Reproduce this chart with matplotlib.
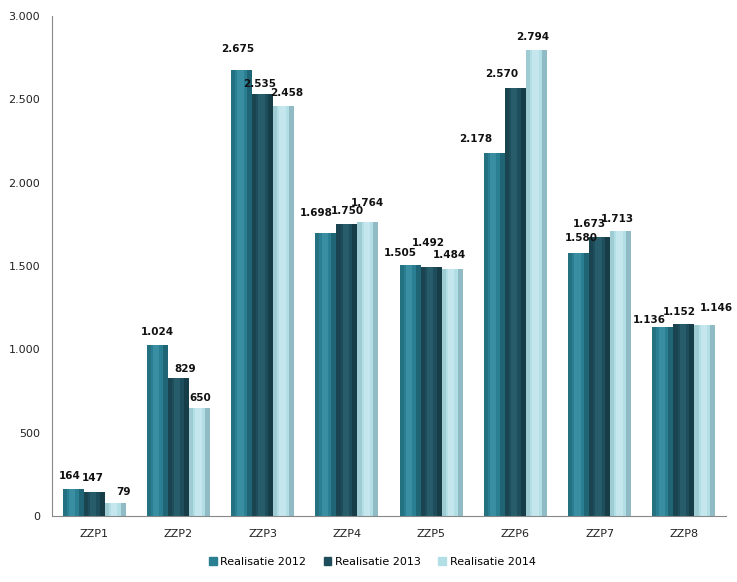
import matplotlib
matplotlib.use("Agg")
import matplotlib.pyplot as plt
import numpy as np
from matplotlib.ticker import FuncFormatter

categories = ["ZZP1", "ZZP2", "ZZP3", "ZZP4", "ZZP5", "ZZP6", "ZZP7", "ZZP8"]
series_names = ["Realisatie 2012", "Realisatie 2013", "Realisatie 2014"]
r2012 = [164, 1024, 2675, 1698, 1505, 2178, 1580, 1136]
r2013 = [147, 829, 2535, 1750, 1492, 2570, 1673, 1152]
r2014 = [79, 650, 2458, 1764, 1484, 2794, 1713, 1146]
yticks = [0, 500, 1000, 1500, 2000, 2500, 3000]

# label nudges (dx px, dy px above bar top) per series, per category
label_dx = [
    [-3, 0, -4, -10, -10, -19, 3, -13],
    [-1, 7, -3, 1, -3, -14, -10, -5],
    [8, 1, 3, 0, -3, -4, -3, 11],
]
label_dy = [
    [13, 13, 21, 20, 12, 14, 15, 7],
    [14, 9, 10, 13, 24, 14, 13, 12],
    [11, 10, 13, 19, 14, 13, 12, 17],
]

colors = ["#2a7f92", "#1e4e5b", "#b2dee6"]
light = ["#57aebf", "#3a7988", "#e8f7fa"]
dark = ["#1a5866", "#12343e", "#7ea9b2"]

fig = plt.figure(figsize=(7.37, 5.82), dpi=100)
ax = fig.add_axes([0.0706, 0.1134, 0.9144, 0.8591])

def fmt(v):
    return f"{v:,}".replace(",", ".")

x = np.arange(len(categories))
w = 0.25
series = [r2012, r2013, r2014]
pt = 72 / 100
for i, vals in enumerate(series):
    xs = x + (i - 1) * w
    ax.bar(xs, vals, width=w, color=colors[i], edgecolor="none", label=series_names[i], zorder=2)
    ax.bar(xs - w * 0.40, vals, width=w * 0.2, color=dark[i], edgecolor="none", alpha=0.35, zorder=3)
    ax.bar(xs + w * 0.38, vals, width=w * 0.24, color=dark[i], edgecolor="none", alpha=0.65, zorder=3)
    ax.bar(xs - w * 0.05, vals, width=w * 0.3, color=light[i], edgecolor="none", alpha=0.35, zorder=3)
    for j, (xi, v) in enumerate(zip(xs, vals)):
        ax.annotate(fmt(v), (xi, v), xytext=(label_dx[i][j] * pt, label_dy[i][j] * pt),
                    textcoords="offset points", ha="center", va="center", fontsize=7.5,
                    fontweight="bold", color="#111111", zorder=5)

ax.set_xlim(-0.5, len(categories) - 0.5)
ax.set_ylim(0, 3000)
ax.set_yticks(yticks)
ax.yaxis.set_major_formatter(FuncFormatter(lambda v, p: fmt(int(v))))
ax.set_xticks(x)
ax.set_xticklabels(categories)
ax.tick_params(axis="x", length=0, pad=9, labelsize=8, colors="#222222")
ax.tick_params(axis="y", length=0, pad=8.5, labelsize=8, colors="#222222")
for s in ["top", "right"]:
    ax.spines[s].set_visible(False)
for s in ["left", "bottom"]:
    ax.spines[s].set_color("#888888")
    ax.spines[s].set_linewidth(0.8)

handles = [plt.Rectangle((0, 0), 1, 1, color=c) for c in colors]
fig.legend(handles, series_names, loc="center", bbox_to_anchor=(0.505, 0.034), ncol=3,
           frameon=False, fontsize=8, handlelength=0.7, handleheight=0.7,
           handletextpad=0.3, columnspacing=1.6)

fig.savefig("out.png", dpi=100)
